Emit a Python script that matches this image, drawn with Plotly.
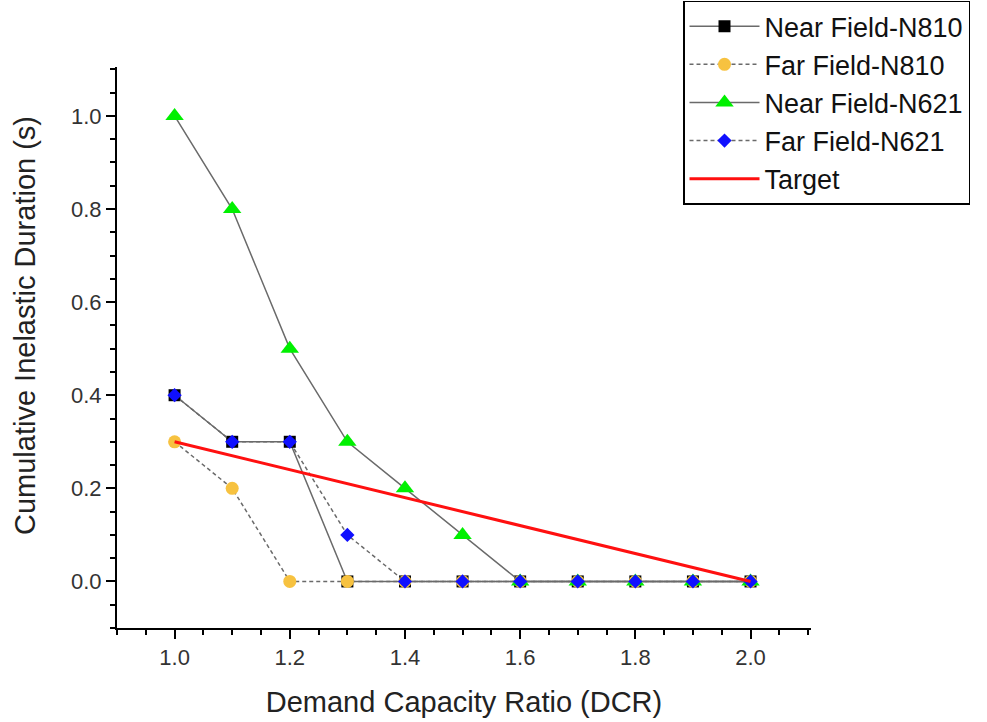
import plotly.graph_objects as go

# Demand capacity ratio values on the x axis
dcr = [1.0, 1.1, 1.2, 1.3, 1.4, 1.5, 1.6, 1.7, 1.8, 1.9, 2.0]

# Cumulative inelastic duration (s) for each record set
near_n810 = [0.4, 0.3, 0.3, 0.0, 0.0, 0.0, 0.0, 0.0, 0.0, 0.0, 0.0]
far_n810 = [0.3, 0.2, 0.0, 0.0, 0.0, 0.0, 0.0, 0.0, 0.0, 0.0, 0.0]
near_n621 = [1.0, 0.8, 0.5, 0.3, 0.2, 0.1, 0.0, 0.0, 0.0, 0.0, 0.0]
far_n621 = [0.4, 0.3, 0.3, 0.1, 0.0, 0.0, 0.0, 0.0, 0.0, 0.0, 0.0]

# Target performance line
target_x = [1.0, 2.0]
target_y = [0.3, 0.0]

x_ticks = [1.0, 1.2, 1.4, 1.6, 1.8, 2.0]
y_ticks = [0.0, 0.2, 0.4, 0.6, 0.8, 1.0]

FONT = "Liberation Sans, Arial, sans-serif"
LINE_GRAY = "#6a6a6a"
SHORT_DASH = "4px,3px"

fig = go.Figure()

fig.add_trace(go.Scatter(
    x=dcr, y=near_n810, name="Near Field-N810", mode="lines+markers",
    line=dict(color=LINE_GRAY, width=1.5),
    marker=dict(symbol="square", size=12, color="#000000"),
))
fig.add_trace(go.Scatter(
    x=dcr, y=far_n810, name="Far Field-N810", mode="lines+markers",
    line=dict(color=LINE_GRAY, width=1.5, dash=SHORT_DASH),
    marker=dict(symbol="circle", size=13, color="#F7C240"),
))
fig.add_trace(go.Scatter(
    x=dcr, y=near_n621, name="Near Field-N621", mode="lines+markers",
    line=dict(color=LINE_GRAY, width=1.5),
    marker=dict(symbol="triangle-up", size=16, color="#00F000"),
))
fig.add_trace(go.Scatter(
    x=dcr, y=far_n621, name="Far Field-N621", mode="lines+markers",
    line=dict(color=LINE_GRAY, width=1.5, dash=SHORT_DASH),
    marker=dict(symbol="diamond", size=11, color="#1010FF"),
))
fig.add_trace(go.Scatter(
    x=target_x, y=target_y, name="Target", mode="lines",
    line=dict(color="#FF1010", width=3),
))

axis_common = dict(
    showgrid=False, zeroline=False, showline=True, linecolor="#000000",
    linewidth=2, ticks="outside", ticklen=9, tickwidth=2, tickcolor="#000000",
    mirror=False,
    minor=dict(ticks="outside", ticklen=5, tickwidth=1.5, tickcolor="#000000"),
)

fig.update_layout(
    width=987, height=722,
    margin=dict(l=117, r=176, t=67, b=94, autoexpand=False),
    paper_bgcolor="white", plot_bgcolor="white",
    font=dict(family=FONT, color="#222222"),
    xaxis=dict(
        range=[0.9, 2.105], tickvals=x_ticks, ticktext=[f"{v:.1f}" for v in x_ticks],
        tickfont=dict(size=22, color="#333333"),
        title=dict(text="Demand Capacity Ratio (DCR)", font=dict(size=29, color="#222222"), standoff=22),
        **axis_common,
    ),
    yaxis=dict(
        range=[-0.1, 1.105], tickvals=y_ticks, ticktext=[f"{v:.1f}" for v in y_ticks],
        tickfont=dict(size=22, color="#333333"),
        **axis_common,
    ),
    annotations=[dict(
        text="Cumulative Inelastic Duration (s)", textangle=-90,
        xref="paper", yref="paper", x=-0.1326, y=0.54,
        xanchor="center", yanchor="middle", showarrow=False,
        font=dict(size=29, color="#222222", family=FONT),
    )],
    legend=dict(
        xref="container", yref="container",
        x=0.692, y=0.999, xanchor="left", yanchor="top",
        bgcolor="white", bordercolor="#000000", borderwidth=1.5,
        font=dict(size=27, color="#111111", family=FONT),
        itemwidth=70, tracegroupgap=0,
    ),
    showlegend=True,
)

fig.write_html("out.html")
